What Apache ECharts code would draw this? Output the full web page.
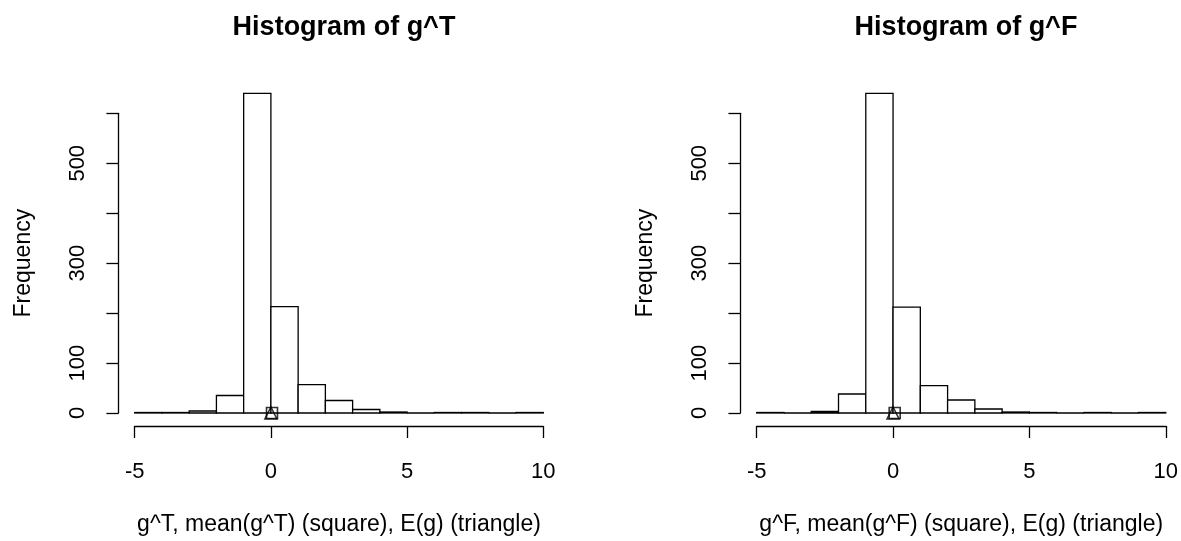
<!DOCTYPE html>
<html><head><meta charset="utf-8">
<script src="https://cdn.jsdelivr.net/npm/echarts@6/dist/echarts.min.js"></script>
<style>html,body{margin:0;padding:0;background:#fff}#c{width:1181px;height:541px}</style>
</head><body><div id="c"></div>
<script>
// ---- data ----
const binEdges = [-5,-4,-3,-2,-1,0,1,2,3,4,5,6,7,8,9,10];
const countsT = [1,1,4,35,640,213,57,25,7,2,0,1,1,0,1];
const countsF = [1,0,3,38,640,212,55,26,8,2,1,0,1,0,1];
const meanT = 0.04;
const meanF = 0.06;
const expectedG = 0;
const xTickValues = [-5,0,5,10];
const yTickLabels = [0,100,300,500];
const titles = ['Histogram of g^T','Histogram of g^F'];
const xNames = ['g^T, mean(g^T) (square), E(g) (triangle)','g^F, mean(g^F) (square), E(g) (triangle)'];
const yName = 'Frequency';

// ---- chart ----
const FONT = "'Liberation Sans', Arial, Helvetica, sans-serif";
const LW = 1.3;
const chart = echarts.init(document.getElementById('c'), null, {renderer:'canvas'});

function binData(counts){
  return counts.map((c,i)=>[binEdges[i], binEdges[i+1], c]);
}
function renderBar(params, api){
  const p0 = api.coord([api.value(0), api.value(2)]);
  const p1 = api.coord([api.value(1), 0]);
  return {type:'rect', shape:{x:p0[0], y:p0[1], width:p1[0]-p0[0], height:p1[1]-p0[1]},
          style:{fill:'#fff', stroke:'#000', lineWidth:LW}};
}
const grids = [
  {left:134.7, top:113.3, width:408.6, height:300},
  {left:756.7, top:113.3, width:409.4, height:300}
];
function xAxisOf(i){
  return {gridIndex:i, type:'value', min:binEdges[0], max:binEdges[binEdges.length-1], interval:5, offset:13,
    axisLine:{show:true, onZero:false, lineStyle:{color:'#000', width:LW}},
    axisTick:{show:true, length:12, lineStyle:{color:'#000', width:LW}},
    axisLabel:{fontSize:22, color:'#000', fontFamily:FONT, margin:35,
      formatter:v=> xTickValues.includes(v) ? String(v) : ''},
    splitLine:{show:false},
    name:xNames[i], nameLocation:'middle', nameGap:87,
    nameTextStyle:{fontSize:23, color:'#000', fontFamily:FONT}};
}
function yAxisOf(i){
  return {gridIndex:i, type:'value', min:0, max:600, interval:100, offset:16.3,
    axisLine:{show:true, onZero:false, lineStyle:{color:'#000', width:LW}},
    axisTick:{show:true, length:12, lineStyle:{color:'#000', width:LW}},
    axisLabel:{fontSize:22, color:'#000', fontFamily:FONT, rotate:90, margin:29,
      formatter:v=> yTickLabels.includes(v) ? String(v) : ''},
    splitLine:{show:false},
    name:yName, nameLocation:'middle', nameGap:83, nameRotate:90,
    nameTextStyle:{fontSize:23, color:'#000', fontFamily:FONT}};
}
const series = [];
[[countsT, meanT],[countsF, meanF]].forEach(([counts, mean], i)=>{
  series.push({type:'custom', xAxisIndex:i, yAxisIndex:i, renderItem:renderBar,
    data:binData(counts), encode:{x:[0,1], y:2}, silent:true, z:2});
  series.push({type:'scatter', xAxisIndex:i, yAxisIndex:i, data:[[mean,0]], symbol:'rect', symbolSize:11,
    clip:false, silent:true, z:5,
    itemStyle:{color:'rgba(0,0,0,0)', borderColor:'#000', borderWidth:1.6}});
  series.push({type:'scatter', xAxisIndex:i, yAxisIndex:i, data:[[expectedG,0]], symbol:'triangle', symbolSize:12,
    clip:false, silent:true, z:5,
    itemStyle:{color:'rgba(0,0,0,0)', borderColor:'#000', borderWidth:1.6}});
});

chart.setOption({
  animation:false,
  backgroundColor:'#fff',
  title:[
    {text:titles[0], left:339, top:9, textAlign:'center', textStyle:{fontSize:27, fontWeight:'bold', color:'#000', fontFamily:FONT}},
    {text:titles[1], left:961, top:9, textAlign:'center', textStyle:{fontSize:27, fontWeight:'bold', color:'#000', fontFamily:FONT}}
  ],
  grid:grids,
  xAxis:[xAxisOf(0), xAxisOf(1)],
  yAxis:[yAxisOf(0), yAxisOf(1)],
  series:series
});
</script></body></html>
